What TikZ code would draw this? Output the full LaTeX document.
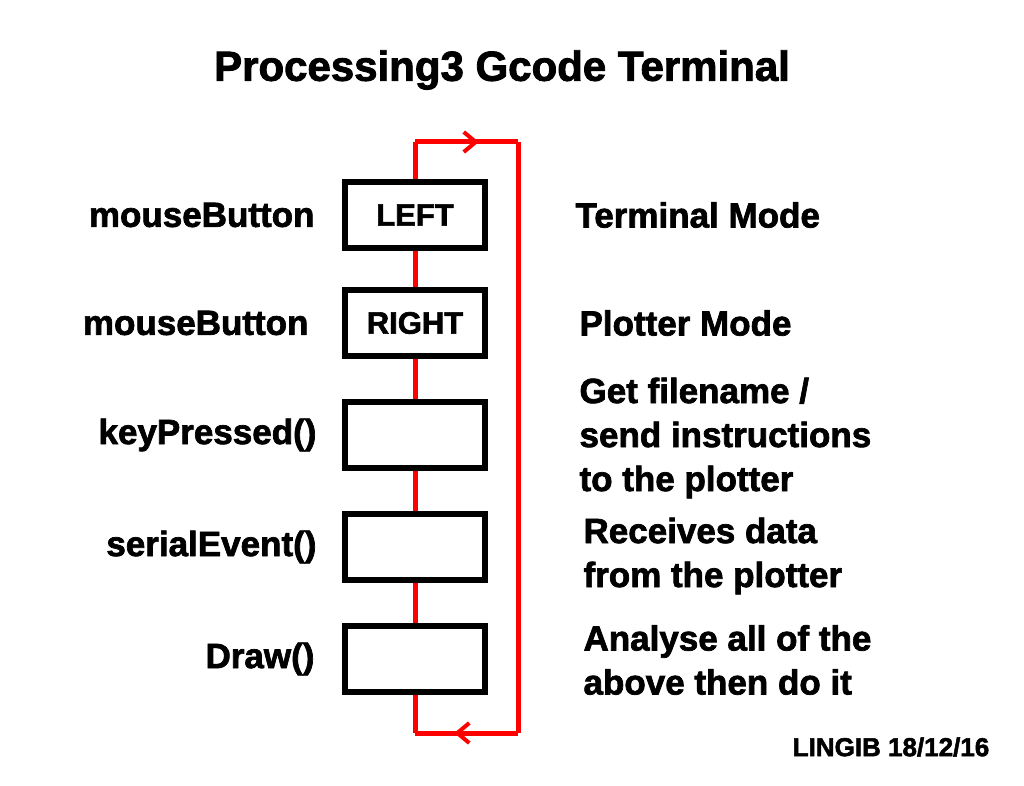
\documentclass[tikz,border=0pt]{standalone}
\usepackage{fontspec}
\setmainfont{Liberation Sans}[BoldFeatures={FakeBold=2}]
\usetikzlibrary{arrows.meta,decorations.markings}
\begin{document}
\begin{tikzpicture}[x=1pt,y=-1pt,
  box/.style={draw=black,line width=5.5pt,fill=white,minimum width=140pt,minimum height=66pt,inner sep=0pt,font=\bfseries\fontsize{31}{34}\selectfont},
  lbl/.style={font=\bfseries\fontsize{35}{38}\selectfont,anchor=east},
  desc/.style={font=\bfseries\fontsize{35}{44}\selectfont,anchor=west,align=left},
  loop/.style={red,line width=5pt},
  tipmark/.style={postaction={decorate,decoration={markings,mark=at position #1 with {\arrow[red,line width=4pt]{Straight Barb[length=12pt,width=20pt]}}}}}]
\useasboundingbox (0,0) rectangle (1024,786);
\node[font=\bfseries\fontsize{42}{46}\selectfont] (title) at (502,70) {Processing3 Gcode Terminal};
\coordinate (tl) at (415,142); \coordinate (tr) at (518,142);
\coordinate (br) at (518,733); \coordinate (bl) at (415,733);
\draw[loop] (bl) -- (tl);
\draw[loop,tipmark=0.62] (tl) -- (tr);
\draw[loop] (tr) -- (br);
\draw[loop,tipmark=0.62] (br) -- (bl);
\node[box] (b1) at (415,215) {LEFT};
\node[box] (b2) at (415,323) {RIGHT};
\node[box] (b3) at (415,435) {};
\node[box] (b4) at (415,547) {};
\node[box] (b5) at (415,659) {};
\node[lbl] (l1) at (318,215) {mouseButton};
\node[lbl] (l2) at (312,323) {mouseButton};
\node[lbl] (l3) at (320,435) {keyPressed()};
\node[lbl] (l4) at (320,547) {serialEvent()};
\node[lbl] (l5) at (318,659) {Draw()};
\node[desc] (d1) at (572,215) {Terminal Mode};
\node[desc] (d2) at (576,323) {Plotter Mode};
\node[desc] (d3) at (576,438) {Get filename /\\send instructions\\to the plotter};
\node[desc] (d4) at (580,556) {Receives data\\from the plotter};
\node[desc] (d5) at (580,660) {Analyse all of the\\above then do it};
\node[font=\bfseries\fontsize{26}{30}\selectfont] (sig) at (891,747) {LINGIB 18/12/16};
\end{tikzpicture}
\end{document}
